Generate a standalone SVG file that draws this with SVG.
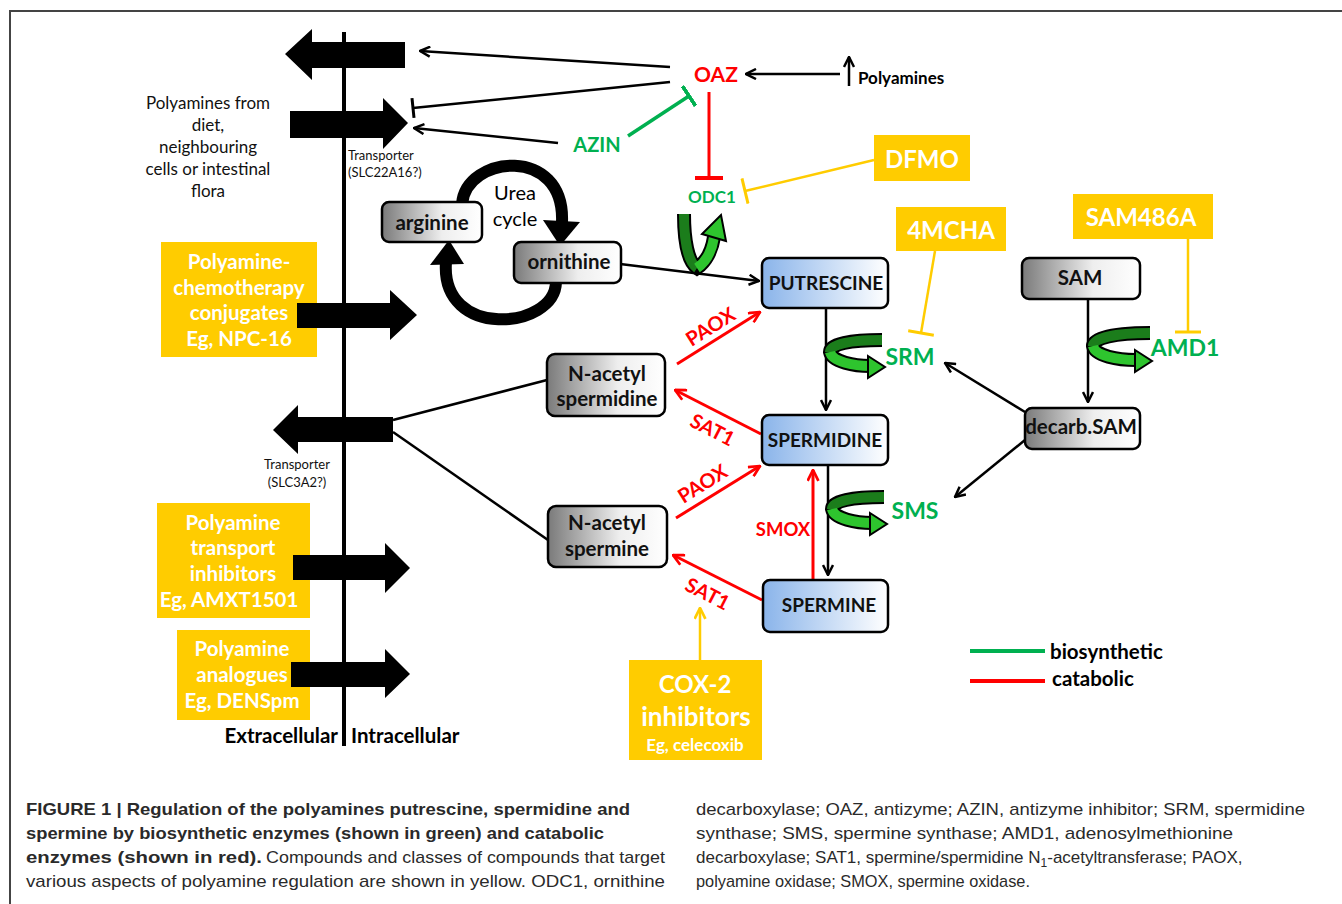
<svg xmlns="http://www.w3.org/2000/svg" width="1342" height="904" viewBox="0 0 1342 904">
<style>
.t{font-family:Lato,"Open Sans","Liberation Sans",sans-serif;font-weight:bold;text-anchor:middle;dominant-baseline:central}
.nd{font-size:20.5px;fill:#111}
.nc{font-size:19px;fill:#111}
.yw{font-size:20.5px;fill:#fff}
.g{fill:#00b050}
.r{fill:#ff0000}
.ez{font-size:23px}
.rl{font-size:20px}
.ln{fill:none;stroke:#000;stroke-width:2.5}
.lr{fill:none;stroke:#ff0000;stroke-width:3}
.lg{fill:none;stroke:#00b050;stroke-width:3.5}
.ly{fill:none;stroke:#ffcc00;stroke-width:2.5}
.gb{fill:url(#gray);stroke:#000;stroke-width:2.5}
.bb{fill:url(#blue);stroke:#000;stroke-width:2.5}
.yb{fill:#ffcc00}
.sm{font-family:Lato,"Open Sans",sans-serif;font-size:13px;fill:#111}
.dl{font-size:17px;font-weight:normal;fill:#111}
.cap{font-family:"Liberation Sans",Arial,sans-serif;font-size:17px;fill:#2a2a2a}
.hk{fill:none;stroke:#000;stroke-width:14}
.hd{fill:none;stroke:#1b7d1b;stroke-width:10}
.hl{fill:none;stroke:#2ec42e;stroke-width:10}
.ha{fill:#2ec42e;stroke:#000;stroke-width:2}
</style>
<defs>
<linearGradient id="gray" x1="0" y1="0" x2="1" y2="0"><stop offset="0" stop-color="#7a7a7a"/><stop offset="0.6" stop-color="#eeeeee"/><stop offset="1" stop-color="#ffffff"/></linearGradient>
<linearGradient id="blue" x1="0" y1="0" x2="1" y2="0"><stop offset="0" stop-color="#8ab4ea"/><stop offset="1" stop-color="#ffffff"/></linearGradient>
<marker id="ab" viewBox="0 0 12 12" refX="11" refY="6" markerWidth="12" markerHeight="12" markerUnits="userSpaceOnUse" orient="auto"><path d="M1,1 L11,6 L1,11" fill="none" stroke="#000" stroke-width="2.5"/></marker>
<marker id="ar" viewBox="0 0 12 12" refX="11" refY="6" markerWidth="13" markerHeight="13" markerUnits="userSpaceOnUse" orient="auto"><path d="M1,1 L11,6 L1,11" fill="none" stroke="#ff0000" stroke-width="2.5"/></marker>
<marker id="ay" viewBox="0 0 12 12" refX="11" refY="6" markerWidth="13" markerHeight="13" markerUnits="userSpaceOnUse" orient="auto"><path d="M1,1 L11,6 L1,11" fill="none" stroke="#ffcc00" stroke-width="2.5"/></marker>
<marker id="tk" viewBox="0 0 4 24" refX="2" refY="12" markerWidth="4" markerHeight="24" markerUnits="userSpaceOnUse" orient="auto"><path d="M2,2 V22" stroke="#000" stroke-width="3"/></marker>
<marker id="tr" viewBox="0 0 4 28" refX="2" refY="14" markerWidth="4" markerHeight="28" markerUnits="userSpaceOnUse" orient="auto"><path d="M2,0 V28" stroke="#ff0000" stroke-width="4"/></marker>
<marker id="tg" viewBox="0 0 4 24" refX="2" refY="12" markerWidth="4" markerHeight="24" markerUnits="userSpaceOnUse" orient="auto"><path d="M2,0 V24" stroke="#00b050" stroke-width="4"/></marker>
<marker id="ty" viewBox="0 0 4 26" refX="2" refY="13" markerWidth="4" markerHeight="26" markerUnits="userSpaceOnUse" orient="auto"><path d="M2,0 V26" stroke="#ffcc00" stroke-width="3"/></marker>
</defs>
<rect width="1342" height="904" fill="#fff"/>
<path d="M10,904 V11 H1342" fill="none" stroke="#444" stroke-width="2"/>

<!-- yellow compound boxes (left) -->
<g id="conjugates"><rect class="yb" x="161" y="242" width="156" height="115"/>
<text class="t yw" x="239" y="261">Polyamine-</text><text class="t yw" x="239" y="287">chemotherapy</text><text class="t yw" x="239" y="312">conjugates</text><text class="t yw" x="239" y="338">Eg, NPC-16</text></g>
<g id="transport-inhibitors"><rect class="yb" x="157" y="503" width="153" height="115"/>
<text class="t yw" x="233" y="522">Polyamine</text><text class="t yw" x="233" y="547">transport</text><text class="t yw" x="233" y="573">inhibitors</text><text class="t yw" x="229" y="599">Eg, AMXT1501</text></g>
<g id="analogues"><rect class="yb" x="177" y="630" width="133" height="90"/>
<text class="t yw" x="242" y="648">Polyamine</text><text class="t yw" x="242" y="674">analogues</text><text class="t yw" x="242" y="700">Eg, DENSpm</text></g>

<!-- membrane and transport arrows -->
<g id="membrane">
<line x1="344" y1="32" x2="344" y2="746" stroke="#000" stroke-width="4"/>
<polygon points="405,42 312,42 312,29 285,54 312,80 312,68 405,68"/>
<polygon points="290,111 383,111 383,98 408,123 383,149 383,138 290,138"/>
<polygon points="297,303 390,303 390,290 417,315 390,340 390,328 297,328"/>
<polygon points="393,417 298,417 298,405 273,430 298,454 298,442 393,442"/>
<polygon points="293,555 385,555 385,543 410,568 385,593 385,580 293,580"/>
<polygon points="291,662 385,662 385,649 410,674 385,698 385,687 291,687"/>
<text class="t" style="font-size:20.5px;text-anchor:end" x="338" y="735">Extracellular</text>
<text class="t" style="font-size:20.5px;text-anchor:start" x="351" y="735">Intracellular</text>
<text class="sm" x="348" y="160">Transporter</text>
<text class="sm" x="348" y="177">(SLC22A16?)</text>
<text class="sm" style="text-anchor:middle" x="297" y="469">Transporter</text>
<text class="sm" style="text-anchor:middle" x="297" y="487">(SLC3A2?)</text>
</g>
<g id="diet-label">
<text class="t dl" x="208" y="102">Polyamines from</text>
<text class="t dl" x="208" y="124">diet,</text>
<text class="t dl" x="208" y="146">neighbouring</text>
<text class="t dl" x="208" y="168">cells or intestinal</text>
<text class="t dl" x="208" y="190">flora</text>
</g>

<!-- urea cycle -->
<g id="urea-cycle">
<path d="M462,204 C466,155 565,145 562,222" fill="none" stroke="#000" stroke-width="12"/>
<polygon points="543,220 580,222 560,246"/>
<path d="M556,282 C555,330 440,340 446,262" fill="none" stroke="#000" stroke-width="12"/>
<polygon points="430,265 464,264 449,240"/>
<text class="t" style="font-size:20px;font-weight:normal" x="515" y="192">Urea</text>
<text class="t" style="font-size:20px;font-weight:normal" x="515" y="218">cycle</text>
</g>

<!-- connectors -->
<g id="connectors">
<line class="ln" x1="670" y1="67" x2="420" y2="51" marker-end="url(#ab)"/>
<line class="ln" x1="670" y1="82" x2="413" y2="108" marker-end="url(#tk)"/>
<line class="ln" x1="558" y1="143" x2="414" y2="128" marker-end="url(#ab)"/>
<line class="ln" x1="840" y1="74" x2="746" y2="74" marker-end="url(#ab)"/>
<line class="ln" x1="849" y1="86" x2="849" y2="57" marker-end="url(#ab)"/>
<line class="lr" x1="709" y1="92" x2="709" y2="178" marker-end="url(#tr)"/>
<line class="lg" x1="628" y1="136" x2="689" y2="96" marker-end="url(#tg)"/>
<line class="ly" x1="874" y1="160" x2="745" y2="191" marker-end="url(#ty)"/>
<line class="ln" x1="612" y1="263" x2="759" y2="281" marker-end="url(#ab)"/>
<line class="ln" x1="826" y1="308" x2="826" y2="410" marker-end="url(#ab)"/>
<line class="ln" x1="828" y1="465" x2="828" y2="575" marker-end="url(#ab)"/>
<line class="lr" x1="813" y1="580" x2="813" y2="470" marker-end="url(#ar)"/>
<line class="lr" x1="677" y1="364" x2="760" y2="312" marker-end="url(#ar)"/>
<line class="lr" x1="761" y1="434" x2="675" y2="390" marker-end="url(#ar)"/>
<line class="lr" x1="676" y1="518" x2="760" y2="466" marker-end="url(#ar)"/>
<line class="lr" x1="762" y1="600" x2="673" y2="555" marker-end="url(#ar)"/>
<line class="ly" x1="935" y1="251" x2="921" y2="333" marker-end="url(#ty)"/>
<line class="ly" x1="1188" y1="239" x2="1188" y2="332" marker-end="url(#ty)"/>
<line class="ln" x1="1088" y1="299" x2="1088" y2="402" marker-end="url(#ab)"/>
<line class="ln" x1="1025" y1="412" x2="945" y2="363" marker-end="url(#ab)"/>
<line class="ln" x1="1025" y1="440" x2="955" y2="497" marker-end="url(#ab)"/>
<line class="ln" x1="547" y1="380" x2="393" y2="420"/>
<line class="ln" x1="548" y1="540" x2="393" y2="432"/>
<line class="ly" x1="700" y1="660" x2="700" y2="608" marker-end="url(#ay)"/>
</g>

<!-- enzyme hooks -->
<g id="odc1-hook">
<path class="hk" d="M684,214 C684,240 688,262 697,268 C706,262 712,250 714,237"/>
<path class="hd" d="M684,214 C684,240 688,262 697,268"/>
<path class="hl" d="M697,268 C706,262 712,250 714,237"/>
<polygon class="ha" points="702,234 726,241 721,215"/>
</g>
<g id="srm-hook">
<path class="hk" d="M882,340 C850,340 830,344 830,352 C832,362 855,366 870,366"/>
<path class="hd" d="M882,340 C850,340 830,344 830,352"/>
<path class="hl" d="M830,352 C832,362 855,366 870,366"/>
<polygon class="ha" points="868,356 885,367 868,378"/>
</g>
<g id="sms-hook">
<path class="hk" d="M884,497 C852,497 832,501 832,509 C834,519 857,523 872,523"/>
<path class="hd" d="M884,497 C852,497 832,501 832,509"/>
<path class="hl" d="M832,509 C834,519 857,523 872,523"/>
<polygon class="ha" points="870,513 887,524 870,535"/>
</g>
<g id="amd1-hook">
<path class="hk" d="M1150,333 C1115,333 1093,338 1093,346 C1095,356 1118,360 1136,360"/>
<path class="hd" d="M1150,333 C1115,333 1093,338 1093,346"/>
<path class="hl" d="M1093,346 C1095,356 1118,360 1136,360"/>
<polygon class="ha" points="1135,350 1152,361 1135,372"/>
</g>

<!-- nodes -->
<g id="arginine"><rect class="gb" x="382" y="202" width="100" height="40" rx="7"/><text class="t nd" x="432" y="222">arginine</text></g>
<g id="ornithine"><rect class="gb" x="514" y="242" width="107" height="41" rx="7"/><text class="t nd" x="569" y="261">ornithine</text></g>
<g id="putrescine"><rect class="bb" x="762" y="258" width="126" height="50" rx="7"/><text class="t nc" x="826" y="282">PUTRESCINE</text></g>
<g id="n-acetyl-spermidine"><rect class="gb" x="547" y="354" width="118" height="62" rx="8"/><text class="t nd" x="607" y="373">N-acetyl</text><text class="t nd" x="607" y="398">spermidine</text></g>
<g id="spermidine"><rect class="bb" x="762" y="415" width="126" height="50" rx="7"/><text class="t nc" x="825" y="439">SPERMIDINE</text></g>
<g id="n-acetyl-spermine"><rect class="gb" x="548" y="506" width="119" height="61" rx="8"/><text class="t nd" x="607" y="522">N-acetyl</text><text class="t nd" x="607" y="548">spermine</text></g>
<g id="spermine"><rect class="bb" x="763" y="580" width="125" height="52" rx="7"/><text class="t nc" x="829" y="604">SPERMINE</text></g>
<g id="sam"><rect class="gb" x="1022" y="258" width="118" height="41" rx="7"/><text class="t nd" x="1080" y="277">SAM</text></g>
<g id="decarb-sam"><rect class="gb" x="1025" y="408" width="115" height="41" rx="7"/><text class="t nd" x="1081" y="426">decarb.SAM</text></g>

<!-- regulators -->
<g id="oaz"><text class="t r" style="font-size:21px" x="716" y="73">OAZ</text></g>
<g id="polyamines-up"><text class="t" style="font-size:17px;text-anchor:start" x="858" y="77">Polyamines</text></g>
<g id="azin"><text class="t g" style="font-size:20px" x="597" y="144">AZIN</text></g>
<g id="odc1"><text class="t g" style="font-size:17px" x="712" y="196">ODC1</text></g>
<g id="dfmo"><rect class="yb" x="874" y="135" width="96" height="46"/><text class="t" style="font-size:24px;fill:#fff" x="922" y="158">DFMO</text></g>
<g id="mcha"><rect class="yb" x="896" y="207" width="110" height="44"/><text class="t" style="font-size:24px;fill:#fff" x="951" y="229">4MCHA</text></g>
<g id="sam486a"><rect class="yb" x="1073" y="194" width="140" height="45"/><text class="t" style="font-size:24px;fill:#fff" x="1141" y="216">SAM486A</text></g>
<g id="cox2"><rect class="yb" x="629" y="660" width="133" height="100"/><text class="t" style="font-size:24px;fill:#fff" x="695" y="683">COX-2</text><text class="t" style="font-size:26px;fill:#fff" x="696" y="716">inhibitors</text><text class="t" style="font-size:17px;fill:#fff" x="695" y="744">Eg, celecoxib</text></g>
<g id="srm"><text class="t g ez" x="910" y="356">SRM</text></g>
<g id="sms"><text class="t g ez" x="915" y="510">SMS</text></g>
<g id="amd1"><text class="t g ez" x="1185" y="347">AMD1</text></g>
<g id="enzyme-labels">
<text class="t r rl" transform="translate(710,326) rotate(-32)">PAOX</text>
<text class="t r rl" transform="translate(713,429) rotate(27)">SAT1</text>
<text class="t r rl" transform="translate(702,483) rotate(-32)">PAOX</text>
<text class="t r rl" transform="translate(708,593) rotate(27)">SAT1</text>
<text class="t r" style="font-size:18.5px" x="783" y="529">SMOX</text>
</g>

<!-- legend -->
<g id="legend">
<line x1="970" y1="651" x2="1045" y2="651" stroke="#00b050" stroke-width="4"/>
<line x1="970" y1="681" x2="1045" y2="681" stroke="#ff0000" stroke-width="4"/>
<text class="t" style="font-size:20.5px;text-anchor:start" x="1050" y="651">biosynthetic</text>
<text class="t" style="font-size:20.5px;text-anchor:start" x="1052" y="678">catabolic</text>
</g>

<!-- caption -->
<g id="caption">
<text class="cap" style="font-weight:bold" x="26" y="815" textLength="604" lengthAdjust="spacingAndGlyphs">FIGURE 1 | Regulation of the polyamines putrescine, spermidine and</text>
<text class="cap" style="font-weight:bold" x="26" y="839" textLength="578" lengthAdjust="spacingAndGlyphs">spermine by biosynthetic enzymes (shown in green) and catabolic</text>
<text class="cap" style="font-weight:bold" x="26" y="863" textLength="236" lengthAdjust="spacingAndGlyphs">enzymes (shown in red).</text>
<text class="cap" x="266" y="863" textLength="399" lengthAdjust="spacingAndGlyphs">Compounds and classes of compounds that target</text>
<text class="cap" x="26" y="887" textLength="639" lengthAdjust="spacingAndGlyphs">various aspects of polyamine regulation are shown in yellow. ODC1, ornithine</text>
<text class="cap" x="696" y="815" textLength="609" lengthAdjust="spacingAndGlyphs">decarboxylase; OAZ, antizyme; AZIN, antizyme inhibitor; SRM, spermidine</text>
<text class="cap" x="696" y="839" textLength="537" lengthAdjust="spacingAndGlyphs">synthase; SMS, spermine synthase; AMD1, adenosylmethionine</text>
<text class="cap" x="696" y="863">decarboxylase; SAT1, spermine/spermidine N<tspan font-size="12" dy="4">1</tspan><tspan dy="-4">-acetyltransferase; PAOX,</tspan></text>
<text class="cap" x="696" y="887" textLength="334" lengthAdjust="spacingAndGlyphs">polyamine oxidase; SMOX, spermine oxidase.</text>
</g>
</svg>
